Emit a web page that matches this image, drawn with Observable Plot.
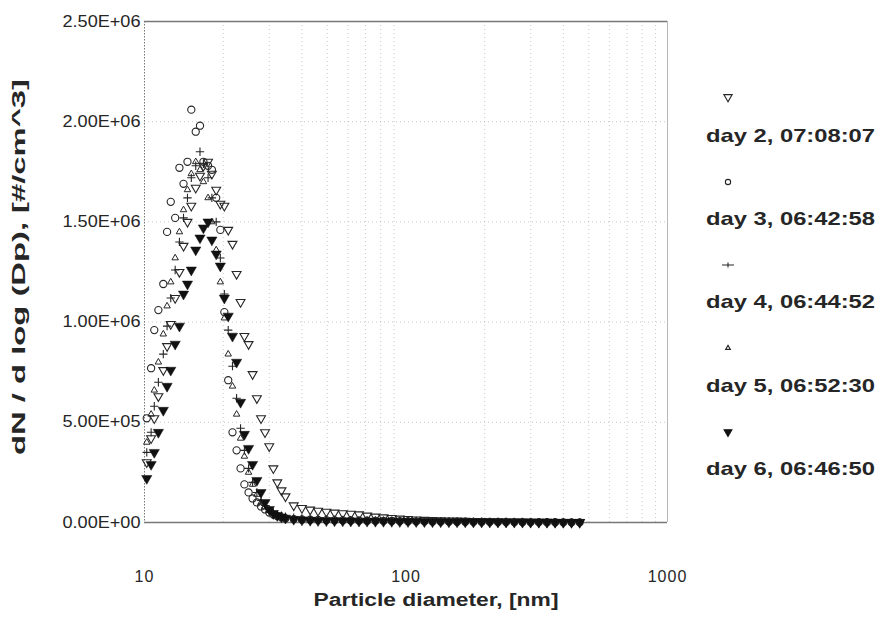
<!DOCTYPE html>
<html><head><meta charset="utf-8">
<script src="https://cdn.jsdelivr.net/npm/d3@7"></script>
<script src="https://cdn.jsdelivr.net/npm/@observablehq/plot@0.6"></script>
<style>
body{margin:0;background:#fff;}
#chart{position:relative;width:882px;height:619px;}
svg{font-family:"Liberation Sans",Arial,sans-serif;}
</style></head><body><div id="chart"></div>
<script>
// Particle diameters (nm), SMPS channels
const diameters = [10.2,10.6,10.9,11.3,11.8,12.2,12.6,13.1,13.6,14.1,14.6,15.1,15.7,16.3,16.8,17.5,18.1,18.8,19.5,20.2,20.9,21.7,22.5,23.3,24.1,25.0,25.9,26.9,27.9,28.9,30.0,31.1,32.2,33.4,34.6,
  37.2,40.0,43.0,46.1,49.6,53.3,57.3,61.5,
  66.1,71.0,76.4,82.0,88.2,94.7,101.8,109.4,117.6,126.3,135.7,145.9,156.8,168.5,181.1,194.6,209.1,224.7,241.4,259.5,278.8,299.6,322.0,346.0,371.8,399.5,429.4,461.4];

// dN/dlogDp values in units of 10^6 #/cm^3
const day2 = [0.30,0.42,0.52,0.63,0.76,0.88,0.99,1.12,1.25,1.38,1.50,1.58,1.67,1.73,1.78,1.80,1.74,1.66,1.59,1.58,1.46,1.39,1.24,1.10,0.93,0.89,0.74,0.62,0.52,0.45,0.38,0.27,0.20,0.16,0.13,
  0.085,0.072,0.064,0.058,0.053,0.049,0.046,0.043,
  0.040,0.034,0.029,0.025,0.022,0.019,0.017,0.015,0.013,0.012,0.011,0.010,0.009,0.008,0.007,0.0065,0.006,0.0055,0.005,0.0045,0.004,0.0035,0.003,0.0027,0.0024,0.002,0.0017,0.0015];
const day3 = [0.52,0.77,0.96,1.06,1.19,1.45,1.60,1.52,1.77,1.69,1.80,2.06,1.95,1.98,1.80,1.78,1.76,1.62,1.46,1.05,0.71,0.45,0.36,0.27,0.19,0.15,0.12,0.10,0.08,0.065,0.05,0.04,0.032,0.026,0.021,
  0.017,0.015,0.014,0.013,0.012,0.011,0.0105,0.010,
  0.0095,0.009,0.0085,0.008,0.0075,0.007,0.0065,0.006,0.0056,0.0052,0.0048,0.0044,0.004,0.0037,0.0034,0.0031,0.0028,0.0026,0.0024,0.0022,0.002,0.0018,0.0016,0.0014,0.0012,0.001,0.0009,0.0008];
const day4 = [0.35,0.45,0.58,0.70,0.84,0.98,1.12,1.26,1.40,1.52,1.62,1.72,1.78,1.85,1.79,1.72,1.62,1.50,1.32,1.14,0.96,0.78,0.62,0.47,0.36,0.27,0.20,0.15,0.11,0.085,0.065,0.05,0.04,0.034,0.029,
  0.024,0.02,0.018,0.016,0.015,0.014,0.013,0.012,
  0.011,0.0105,0.01,0.0095,0.009,0.0085,0.008,0.0075,0.007,0.0065,0.006,0.0055,0.005,0.0046,0.0042,0.0038,0.0035,0.0032,0.0029,0.0026,0.0023,0.002,0.0018,0.0016,0.0014,0.0012,0.001,0.0009];
const day5 = [0.40,0.54,0.66,0.80,0.94,1.08,1.20,1.32,1.45,1.56,1.66,1.74,1.80,1.76,1.70,1.62,1.50,1.36,1.20,1.02,0.84,0.68,0.54,0.42,0.33,0.25,0.19,0.14,0.10,0.078,0.06,0.046,0.036,0.029,0.023,
  0.018,0.015,0.013,0.012,0.011,0.010,0.0095,0.009,
  0.0085,0.008,0.0075,0.007,0.0066,0.0062,0.0058,0.0054,0.005,0.0046,0.0042,0.0039,0.0036,0.0033,0.003,0.0028,0.0026,0.0024,0.0022,0.002,0.0018,0.0016,0.0014,0.0012,0.0011,0.001,0.0009,0.0008];
const day6 = [0.22,0.29,0.35,0.45,0.56,0.68,0.76,0.89,0.98,1.14,1.19,1.26,1.36,1.42,1.47,1.50,1.41,1.34,1.28,1.12,1.03,0.93,0.80,0.60,0.44,0.37,0.29,0.21,0.15,0.10,0.065,0.045,0.035,0.028,0.022,
  0.016,0.013,0.011,0.010,0.009,0.0085,0.008,0.0075,
  0.007,0.0066,0.0062,0.0058,0.0054,0.005,0.0047,0.0044,0.0041,0.0038,0.0035,0.0032,0.003,0.0028,0.0026,0.0024,0.0022,0.002,0.0018,0.0016,0.0015,0.0014,0.0013,0.0012,0.0011,0.001,0.0009,0.0008];

const seriesNames = ["day 2, 07:08:07","day 3, 06:42:58","day 4, 06:44:52","day 5, 06:52:30","day 6, 06:46:50"];
const yTicks = [0,5e5,1e6,1.5e6,2e6,2.5e6];
const xTicks = [10,100,1000];
const gridX = [20,30,40,50,60,70,80,90,200,300,400,500,600,700,800,900];
const gridY = [5e5,1e6,1.5e6,2e6];
const xLabel = "Particle diameter, [nm]";
const yLabel = "dN / d log (Dp), [#/cm^3]";

const seriesValues = [day2, day3, day4, day5, day6];
const table = seriesValues.flatMap((vals, i) => vals.map((v, j) => ({d: diameters[j], n: v * 1e6, s: seriesNames[i]})));
const sub = k => table.filter(r => r.s === seriesNames[k]);

const triDown = {draw(ctx, size) {
  const s = Math.sqrt(4 * size / Math.sqrt(3)), h = s * Math.sqrt(3) / 2;
  ctx.moveTo(0, 2 * h / 3); ctx.lineTo(-s / 2, -h / 3); ctx.lineTo(s / 2, -h / 3); ctx.closePath();
}};

const fmt = v => {
  const [m, e] = v.toExponential(2).toUpperCase().split("E");
  const sign = e[0] === "-" ? "-" : "+";
  return `${m}E${sign}${e.replace(/^[+-]/, "").padStart(2, "0")}`;
};

const ink = "#262626";
const plot = Plot.plot({
  width: 882, height: 619,
  marginLeft: 144, marginRight: 215, marginTop: 21, marginBottom: 97,
  style: {fontFamily: '"Liberation Sans", Arial, sans-serif', fontSize: "16px", color: ink, background: "transparent", overflow: "visible"},
  x: {type: "log", domain: [10, 1000]},
  y: {domain: [0, 2.5e6]},
  marks: [
    Plot.ruleX(gridX, {stroke: "#888", strokeOpacity: 0.45, strokeDasharray: "1,3"}),
    Plot.ruleY(gridY, {stroke: "#888", strokeOpacity: 0.45, strokeDasharray: "1,3"}),
    Plot.ruleX([1000], {stroke: "#999", strokeOpacity: 0.7}),
    Plot.ruleX([10], {stroke: "#777", strokeDasharray: "1.5,1.5"}),
    Plot.ruleY([0, 2.5e6], {stroke: "#777", strokeWidth: 1.6}),
    Plot.axisX({ticks: xTicks, tickFormat: d => String(d), tickSize: 0, tickPadding: 48, label: null}),
    Plot.axisY({ticks: yTicks, tickFormat: fmt, tickSize: 0, tickPadding: 4, label: null}),
    Plot.dot(sub(0), {x: "d", y: "n", symbol: triDown, r: 3.3, stroke: ink, strokeWidth: 1.1, fill: "none"}),
    Plot.dot(sub(1), {x: "d", y: "n", symbol: "circle", r: 3.6, stroke: ink, strokeWidth: 1.1, fill: "none"}),
    Plot.dot(sub(2), {x: "d", y: "n", symbol: "plus", r: 2.8, stroke: ink, strokeWidth: 1.1}),
    Plot.dot(sub(3), {x: "d", y: "n", symbol: "triangle", r: 2.4, stroke: ink, strokeWidth: 1, fill: "none"}),
    Plot.dot(sub(4), {x: "d", y: "n", symbol: triDown, r: 3.8, fill: "#111", stroke: "#111", strokeWidth: 0.5}),
    Plot.text([xLabel], {text: d => d, frameAnchor: "bottom", dy: 83, dx: 30, fontSize: 18, fontWeight: "bold", fill: ink}),
    Plot.text([yLabel], {text: d => d, frameAnchor: "left", rotate: -90, dx: -126, dy: -5, fontSize: 19, fontWeight: "bold", fill: ink})
  ]
});
document.getElementById("chart").appendChild(plot);

const svg = d3.select(plot);
svg.selectAll('g[aria-label="y-axis tick label"] text').attr("textLength", 78).attr("lengthAdjust", "spacingAndGlyphs");
svg.selectAll('g[aria-label="x-axis tick label"] text').attr("letter-spacing", "1px");
svg.selectAll("text").filter(function() { return this.textContent === xLabel; })
  .attr("text-anchor", "start").attr("x", -122.5)
  .attr("textLength", 245).attr("lengthAdjust", "spacingAndGlyphs");
svg.selectAll("text").filter(function() { return this.textContent === yLabel; })
  .attr("text-anchor", "start").attr("x", -188)
  .attr("textLength", 376).attr("lengthAdjust", "spacingAndGlyphs");

// legend
const legendSymbols = [
  {type: triDown, size: 30, fill: "none"},
  {type: d3.symbolCircle, size: 22, fill: "none"},
  {type: d3.symbolCross, size: 14, fill: ink, plus: true},
  {type: d3.symbolTriangle, size: 10, fill: "none"},
  {type: triDown, size: 26, fill: "#111"}
];
const symY = [97, 182, 265, 348, 432];
const txtY = [142, 225, 308, 392, 475];
const lg = svg.append("g").attr("aria-label", "legend");
seriesNames.forEach((name, i) => {
  const sym = legendSymbols[i];
  if (sym.plus) {
    lg.append("path").attr("transform", `translate(728,${symY[i]})`)
      .attr("d", "M-6,0H6M0,-2.5V2.5").attr("stroke", ink).attr("stroke-width", 1.1).attr("fill", "none");
  } else {
    lg.append("path").attr("transform", `translate(728,${symY[i]})`)
      .attr("d", d3.symbol(sym.type, sym.size)())
      .attr("fill", sym.fill).attr("stroke", sym.fill === "none" ? ink : "#111").attr("stroke-width", 1.1);
  }
  lg.append("text").attr("x", 706).attr("y", txtY[i]).text(name)
    .attr("text-anchor", "start")
    .attr("font-size", 19).attr("font-weight", "bold").attr("fill", ink)
    .attr("textLength", 169).attr("lengthAdjust", "spacingAndGlyphs");
});
</script></body></html>
